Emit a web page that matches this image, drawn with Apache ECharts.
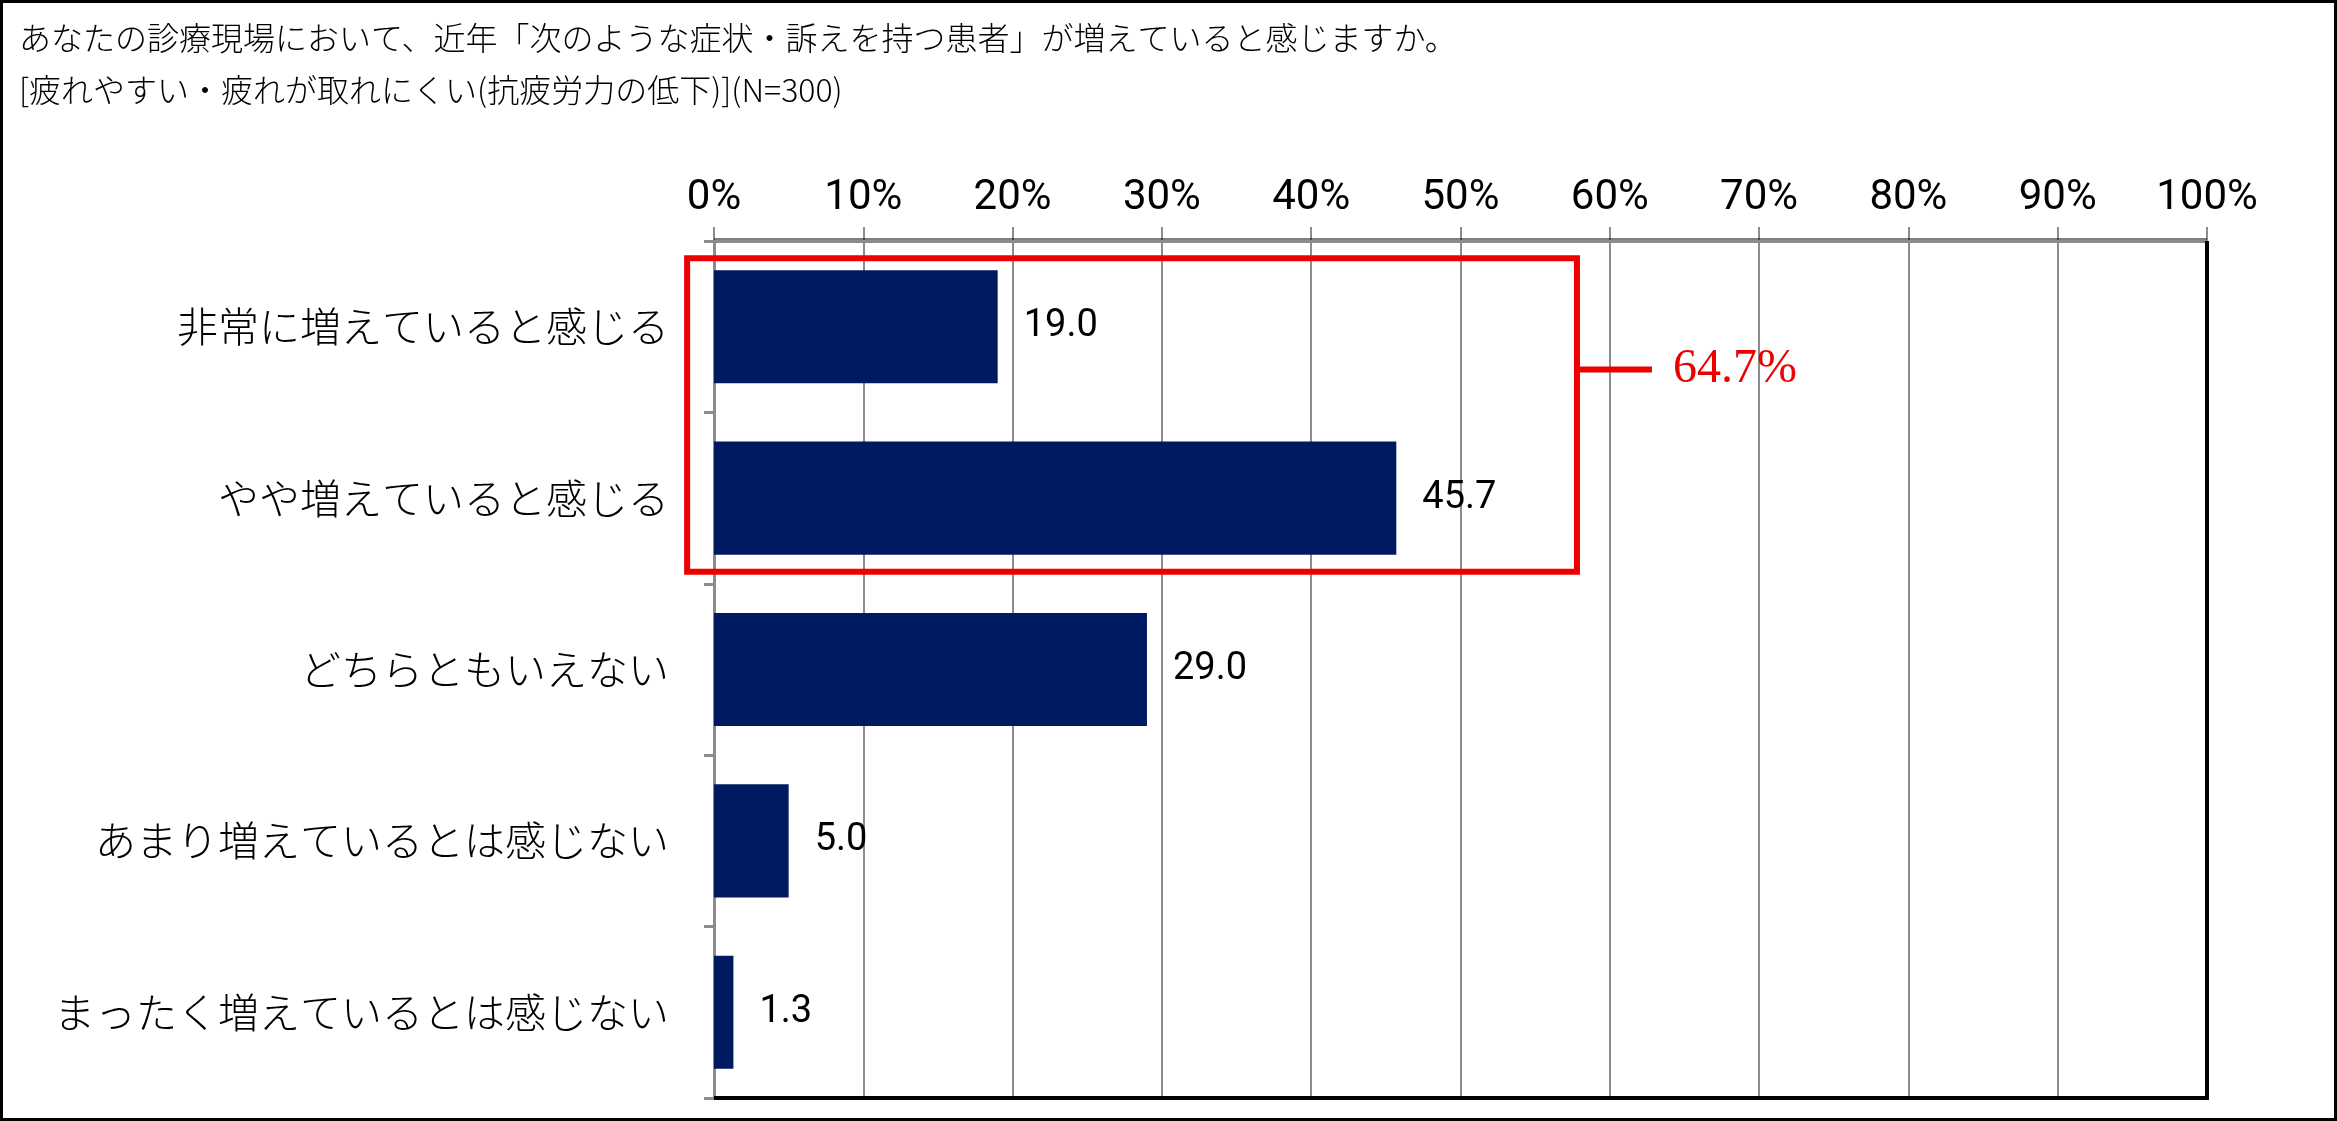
<!DOCTYPE html>
<html>
<head>
<meta charset="utf-8">
<script src="https://cdn.jsdelivr.net/npm/echarts@6/dist/echarts.min.js"></script>
<style>
  html, body { margin: 0; padding: 0; background: #fff; }
  #chart { width: 2337px; height: 1121px; }
</style>
</head>
<body>
<div id="chart"></div>
<script>
// データ
const titleLine1 = 'あなたの診療現場において、近年「次のような症状・訴えを持つ患者」が増えていると感じますか。';
const titleLine2 = '[疲れやすい・疲れが取れにくい(抗疲労力の低下)](N=300)';
const categories = [
    '非常に増えていると感じる',
    'やや増えていると感じる',
    'どちらともいえない',
    'あまり増えているとは感じない',
    'まったく増えているとは感じない'
];
const values = [19.0, 45.7, 29.0, 5.0, 1.3];
const tickValues = [0, 10, 20, 30, 40, 50, 60, 70, 80, 90, 100];
// 上位2項目の合計（赤枠）
const highlightCount = 2;

const chart = echarts.init(document.getElementById('chart'));
const gray = '#8c8c8c';
const cjk = 'Noto Sans CJK JP';

const option = {
    animation: false,
    backgroundColor: '#fff',
    title: [
        { text: titleLine1, left: 14, top: 13,
          textStyle: { fontFamily: cjk, fontSize: 32, fontWeight: 300, color: '#000', lineHeight: 40 } },
        { text: titleLine2, left: 14, top: 65,
          textStyle: { fontFamily: cjk, fontSize: 32, fontWeight: 300, color: '#000', lineHeight: 40 } }
    ],
    grid: { left: 714, right: 130, top: 241, bottom: 23 },
    xAxis: {
        type: 'value', position: 'top',
        min: tickValues[0], max: tickValues[tickValues.length - 1], interval: 10,
        axisLine: { show: true, lineStyle: { color: gray, width: 3 } },
        axisTick: { show: true, length: 14, lineStyle: { color: gray, width: 2 } },
        splitLine: { show: true, lineStyle: { color: gray, width: 2 } },
        axisLabel: { formatter: '{value}%', margin: 22, color: '#000', fontFamily: 'Roboto', fontSize: 42 }
    },
    yAxis: {
        type: 'category', inverse: true, data: categories,
        axisLine: { show: true, lineStyle: { color: gray, width: 3 } },
        axisTick: { show: true, length: 10, lineStyle: { color: gray, width: 3 } },
        axisLabel: { margin: 45, color: '#000', fontFamily: cjk, fontWeight: 300, fontSize: 41 }
    },
    series: [{
        type: 'bar', data: values, barCategoryGap: '34%',
        itemStyle: { color: '#001a61' },
        label: {
            show: true, position: 'right', distance: 26,
            formatter: p => p.value.toFixed(1),
            color: '#000', fontFamily: 'Roboto', fontSize: 38
        }
    }]
};
chart.setOption(option);

// 枠線・赤枠・合計ラベル（軸から座標を求める）
function drawOverlay() {
    const total = values.slice(0, highlightCount).reduce((a, b) => a + b, 0);
    const xMin = chart.convertToPixel({ xAxisIndex: 0 }, tickValues[0]);
    const xMax = chart.convertToPixel({ xAxisIndex: 0 }, tickValues[tickValues.length - 1]);
    const c0 = chart.convertToPixel({ yAxisIndex: 0 }, 0);
    const band = chart.convertToPixel({ yAxisIndex: 0 }, 1) - c0;
    const yPlotTop = c0 - band / 2;
    const yPlotBot = yPlotTop + band * categories.length;
    const c1 = chart.convertToPixel({ yAxisIndex: 0 }, highlightCount - 1);
    const x0 = chart.convertToPixel({ xAxisIndex: 0 }, -1.8);
    const x1 = chart.convertToPixel({ xAxisIndex: 0 }, 57.8);
    const yTop = c0 - band * 0.4;
    const yBot = c1 + band * 0.43;
    const yLink = c0 + band * 0.25;
    chart.setOption({
        graphic: [
            { type: 'rect', silent: true, z: 100,
              shape: { x: 1.5, y: 1.5, width: 2334, height: 1118 },
              style: { fill: 'none', stroke: '#000', lineWidth: 3 } },
            { type: 'polyline', silent: true, z: 90,
              shape: { points: [[xMax, yPlotTop], [xMax, yPlotBot], [xMin, yPlotBot]] },
              style: { fill: 'none', stroke: '#000', lineWidth: 4 } },
            { type: 'line', silent: true, z: 90,
              shape: { x1: xMin, y1: yPlotTop - 2, x2: xMax, y2: yPlotTop - 2 },
              style: { stroke: '#000', lineWidth: 1 } },
            { type: 'rect', silent: true, z: 100,
              shape: { x: x0, y: yTop, width: x1 - x0, height: yBot - yTop },
              style: { fill: 'none', stroke: '#ee0000', lineWidth: 6 } },
            { type: 'line', silent: true, z: 100,
              shape: { x1: x1, y1: yLink, x2: x1 + 75, y2: yLink },
              style: { stroke: '#ee0000', lineWidth: 6 } },
            { type: 'text', silent: true, z: 100,
              x: x1 + 96, y: yLink,
              style: { text: total.toFixed(1) + '%', fill: '#ee0000',
                       font: '48px "Liberation Serif", serif', verticalAlign: 'middle' } }
        ]
    });
}
drawOverlay();
</script>
</body>
</html>
